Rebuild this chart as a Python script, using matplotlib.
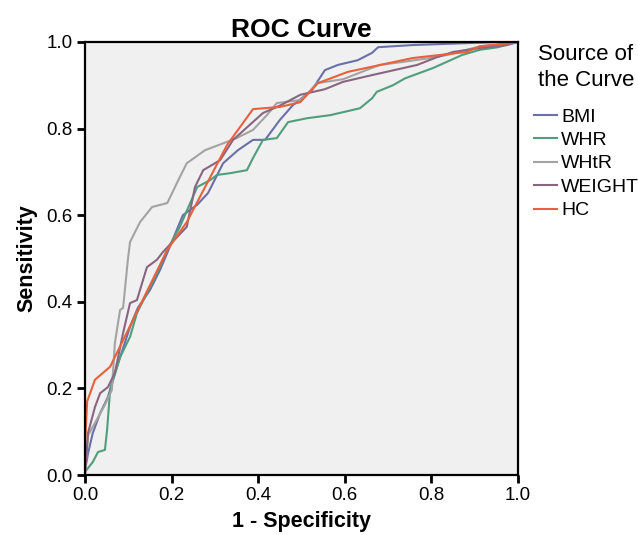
import matplotlib
matplotlib.use("Agg")
import matplotlib.pyplot as plt

# ROC curves (1 - specificity, sensitivity)
bmi_x = [0, 0, 0.007, 0.018, 0.035, 0.053, 0.069, 0.081, 0.104, 0.122, 0.15, 0.173, 0.19, 0.226,
         0.259, 0.284, 0.319, 0.353, 0.388, 0.416, 0.45, 0.48, 0.524, 0.554, 0.584, 0.63, 0.663,
         0.677, 0.757, 0.96, 1.0]
bmi_y = [0, 0.01, 0.05, 0.097, 0.143, 0.18, 0.236, 0.272, 0.342, 0.386, 0.427, 0.473, 0.513, 0.60,
         0.624, 0.651, 0.72, 0.75, 0.774, 0.774, 0.82, 0.854, 0.889, 0.935, 0.947, 0.958, 0.975,
         0.988, 0.993, 1.0, 1.0]

whr_x = [0, 0.018, 0.03, 0.046, 0.051, 0.058, 0.081, 0.104, 0.12, 0.143, 0.166, 0.19, 0.219,
         0.259, 0.289, 0.305, 0.335, 0.374, 0.388, 0.411, 0.443, 0.469, 0.513, 0.566, 0.635,
         0.663, 0.674, 0.711, 0.739, 0.804, 0.871, 0.912, 0.954, 0.99, 1.0]
whr_y = [0.007, 0.03, 0.053, 0.058, 0.104, 0.196, 0.272, 0.319, 0.374, 0.42, 0.466, 0.52, 0.573,
         0.665, 0.681, 0.693, 0.697, 0.704, 0.732, 0.774, 0.778, 0.815, 0.824, 0.831, 0.847,
         0.87, 0.885, 0.9, 0.916, 0.94, 0.97, 0.982, 0.988, 0.998, 1.0]

whtr_x = [0, 0.007, 0.023, 0.046, 0.062, 0.069, 0.081, 0.088, 0.099, 0.104, 0.127, 0.155, 0.19,
          0.219, 0.235, 0.277, 0.319, 0.35, 0.388, 0.42, 0.443, 0.497, 0.51, 0.536, 0.596, 0.68,
          0.734, 0.797, 0.836, 0.912, 0.99, 1.0]
whtr_y = [0, 0.092, 0.12, 0.162, 0.196, 0.305, 0.381, 0.386, 0.497, 0.538, 0.584, 0.619, 0.628,
          0.688, 0.72, 0.75, 0.766, 0.778, 0.797, 0.831, 0.859, 0.866, 0.877, 0.905, 0.914, 0.947,
          0.954, 0.963, 0.97, 0.99, 0.998, 1.0]

weight_x = [0, 0.007, 0.023, 0.035, 0.053, 0.069, 0.088, 0.104, 0.12, 0.143, 0.166, 0.18, 0.235,
            0.254, 0.273, 0.312, 0.342, 0.411, 0.45, 0.497, 0.554, 0.596, 0.665, 0.767, 0.813,
            0.85, 0.912, 0.975, 1.0]
weight_y = [0, 0.097, 0.157, 0.189, 0.203, 0.236, 0.328, 0.397, 0.404, 0.48, 0.497, 0.515, 0.573,
            0.665, 0.704, 0.727, 0.774, 0.836, 0.853, 0.878, 0.891, 0.908, 0.924, 0.947, 0.965,
            0.977, 0.986, 0.993, 1.0]

hc_x = [0, 0, 0.005, 0.023, 0.058, 0.19, 0.235, 0.328, 0.388, 0.45, 0.497, 0.538, 0.607, 0.757,
        0.882, 0.912, 0.99, 1.0]
hc_y = [0, 0.07, 0.17, 0.22, 0.25, 0.52, 0.584, 0.762, 0.845, 0.85, 0.861, 0.905, 0.931, 0.963,
        0.977, 0.99, 0.998, 1.0]

names  = ["BMI", "WHR", "WHtR", "WEIGHT", "HC"]
colors = ["#6a70a8", "#4f9e7c", "#a3a3a3", "#8a6580", "#e8603c"]
curves = [(bmi_x, bmi_y), (whr_x, whr_y), (whtr_x, whtr_y), (weight_x, weight_y), (hc_x, hc_y)]
ticks  = [0.0, 0.2, 0.4, 0.6, 0.8, 1.0]

plt.rcParams["font.family"] = ["Liberation Sans", "DejaVu Sans"]

W, H = 638, 535
fig = plt.figure(figsize=(W / 100, H / 100), dpi=100)
# plot area spans pixels x 85..518, y 42..475 in the reference
ax = fig.add_axes([85 / W, 1 - 475 / H, 433 / W, 433 / H])
ax.set_facecolor("#f0f0f0")

for (xs, ys), name, c in zip(curves, names, colors):
    ax.plot(xs, ys, color=c, lw=1.5, label=name)

ax.set_xlim(0, 1)
ax.set_ylim(0, 1)
ax.set_xticks(ticks)
ax.set_yticks(ticks)
ax.set_xticklabels([f"{t:.1f}" for t in ticks])
ax.set_yticklabels([f"{t:.1f}" for t in ticks])
ax.tick_params(direction="out", length=6, width=2, labelsize=13.5, colors="black", pad=3)
for s in ax.spines.values():
    s.set_linewidth(1.6)

ax.set_title("ROC Curve", fontsize=19, fontweight="bold", pad=3)
ax.set_xlabel("1 - Specificity", fontsize=15.5, fontweight="bold", labelpad=5)
ax.set_ylabel("Sensitivity", fontsize=15.5, fontweight="bold", labelpad=6)

# legend title sits apart from the entries, as in SPSS output
fig.text(538 / W, 1 - 55 / H, "Source of", fontsize=16, va="center", ha="left")
fig.text(538 / W, 1 - 80 / H, "the Curve", fontsize=16, va="center", ha="left")
fig.legend(loc="upper left", bbox_to_anchor=(534 / W, 1 - 108 / H), frameon=False,
           fontsize=14, handlelength=1.2, handletextpad=0.2, labelspacing=0.3,
           borderpad=0, borderaxespad=0)

fig.savefig("out.png", dpi=100)
